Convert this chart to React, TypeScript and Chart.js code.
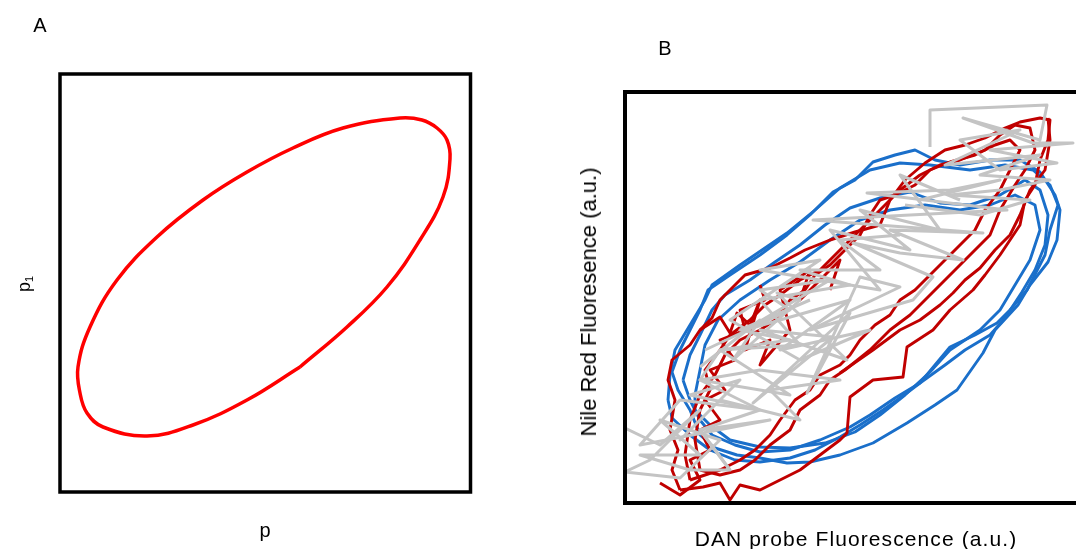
import React, { useEffect, useRef } from "react";
import { Chart, registerables } from "chart.js";

Chart.register(...registerables);

type P = [number, number];

// Panel A: ellipse trace (x = p, y = p1), in box units
const ellipseA: P[] = [
  [240, 125], [287, 165], [327, 205], [360, 252], [383, 295], [390, 333], [387, 352], [377, 364],
  [362, 372], [340, 374], [283, 364], [233, 344], [187, 320], [143, 292], [97, 255],
  [57, 212], [30, 165], [18, 125], [20, 99], [27, 79], [43, 65], [87, 56], [133, 67],
  [187, 92], [240, 125],
];

// Panel B: DAN probe (x) vs Nile Red (y) trajectories, a.u.
const blue1: P[] = [
  [47, 131], [55, 153], [65, 173], [75, 193], [83, 213], [105, 228], [135, 248], [162, 268],
  [185, 288], [208, 311], [230, 323], [248, 341], [270, 348], [290, 353], [310, 343], [335, 338],
  [365, 343], [395, 343], [415, 331], [430, 308], [435, 293], [432, 263], [423, 241], [405, 218],
  [393, 198], [370, 173], [358, 150], [332, 113], [310, 98], [282, 80], [248, 60], [215, 48],
  [185, 41], [162, 40], [135, 45], [112, 48], [90, 55], [75, 68], [65, 93], [53, 113], [47, 131],
];
const blue2: P[] = [
  [58, 123], [65, 148], [75, 168], [87, 193], [100, 208], [125, 223], [150, 241], [175, 258],
  [200, 278], [225, 295], [255, 305], [285, 311], [315, 300], [345, 298], [375, 308], [400, 323],
  [415, 313], [423, 288], [420, 258], [410, 233], [397, 211], [380, 185], [365, 168], [340, 153],
  [320, 138], [295, 120], [270, 105], [245, 88], [225, 76], [195, 63], [165, 53], [135, 51],
  [110, 58], [87, 68], [75, 83], [65, 103], [58, 123],
];
const blue3: P[] = [
  [70, 108], [75, 133], [80, 158], [93, 183], [115, 203], [145, 223], [175, 241], [205, 263],
  [235, 283], [265, 293], [300, 298], [335, 293], [365, 298], [390, 308], [410, 298], [415, 273],
  [405, 243], [390, 218], [375, 193], [355, 173], [325, 153], [305, 131], [280, 108], [255, 88],
  [230, 71], [200, 60], [165, 55], [135, 56], [105, 63], [85, 78], [70, 93], [70, 108],
];
const blue4: P[] = [
  [43, 103], [45, 128], [50, 153], [65, 178], [80, 203], [87, 218], [115, 238], [162, 270],
  [190, 293], [215, 315], [245, 333], [275, 340], [305, 338], [345, 333], [380, 338], [408, 333],
  [425, 318], [433, 298], [425, 273], [420, 248], [402, 213], [385, 193], [372, 180], [350, 168],
  [325, 156], [310, 138], [295, 120], [275, 105], [258, 93], [235, 78], [215, 66], [190, 53],
  [165, 45], [135, 41], [110, 43], [85, 53], [65, 68], [47, 85], [43, 103],
];

const red1: P[] = [
  [55, 13], [47, 33], [53, 53], [45, 73], [50, 103], [43, 123], [47, 143], [65, 158], [75, 173],
  [87, 185], [95, 203], [110, 218], [120, 228], [145, 235], [165, 245], [180, 253], [205, 263],
  [230, 271], [255, 278], [265, 303], [280, 323], [300, 340], [320, 353], [340, 358], [360, 365],
  [380, 375], [395, 381], [415, 385], [425, 383], [423, 363], [415, 343], [410, 318], [400, 303],
  [395, 278], [385, 263], [375, 248], [360, 228], [348, 213], [325, 193], [308, 173], [282, 156],
  [278, 126], [248, 123], [225, 106], [222, 70], [215, 63], [195, 48], [175, 33], [155, 23],
  [135, 13], [115, 18], [105, 3], [95, 20], [78, 16], [55, 13],
];
const red2: P[] = [
  [75, 33], [70, 63], [75, 93], [85, 113], [80, 133], [95, 153], [105, 168], [125, 183],
  [140, 198], [155, 208], [175, 223], [195, 233], [210, 248], [225, 263], [245, 283], [260, 298],
  [275, 313], [295, 328], [315, 338], [335, 343], [360, 353], [375, 368], [390, 378], [405, 375],
  [410, 353], [400, 333], [390, 318], [375, 293], [365, 268], [350, 253], [335, 238], [320, 223],
  [305, 208], [285, 188], [265, 173], [245, 153], [220, 133], [205, 123], [195, 108], [175, 93],
  [165, 73], [145, 58], [130, 43], [115, 33], [95, 28], [75, 33],
];
const red3: P[] = [
  [65, 23], [60, 48], [65, 83], [75, 108], [90, 128], [100, 148], [115, 163], [135, 173],
  [150, 183], [165, 203], [180, 213], [190, 228], [205, 238], [220, 253], [235, 268], [245, 288],
  [255, 303], [270, 308], [290, 318], [305, 333], [325, 341], [350, 348], [370, 358], [385, 363],
  [395, 353], [385, 333], [375, 313], [360, 293], [350, 273], [335, 258], [320, 243], [305, 228],
  [290, 213], [275, 203], [265, 188], [250, 178], [235, 163], [225, 148], [215, 138], [195, 128],
  [185, 113], [170, 103], [155, 83], [145, 68], [130, 53], [115, 43], [95, 33], [80, 28], [65, 23],
];
const red4: P[] = [
  [215, 130], [248, 153], [275, 173], [295, 183], [315, 198], [328, 210], [340, 223], [355, 235],
  [370, 253], [385, 268], [395, 288], [405, 313], [420, 333], [425, 363], [423, 385],
];
const red5: P[] = [
  [35, 20], [55, 8], [75, 23], [65, 43], [85, 53], [75, 73], [95, 83], [80, 103], [100, 113],
  [85, 133], [110, 143], [95, 163], [120, 173], [115, 193], [140, 203], [135, 218],
];
const red6: P[] = [
  [75, 173], [95, 186], [105, 170], [112, 190], [125, 178], [135, 203], [120, 153], [145, 163],
  [135, 138], [165, 173], [155, 213], [185, 233], [175, 203], [215, 243], [205, 213],
];

const gray1: P[] = [
  [0, 75], [35, 58], [75, 93], [25, 43], [0, 31], [55, 25], [95, 63], [35, 83], [75, 48],
  [15, 48], [65, 33], [105, 33], [75, 73], [135, 93], [65, 108], [115, 123], [55, 63], [95, 103],
  [175, 83], [145, 113], [215, 123], [135, 133], [75, 123], [95, 153], [165, 163], [115, 173],
  [185, 203],
];
const gray2: P[] = [
  [75, 136], [135, 183], [108, 143], [175, 203], [152, 210], [222, 143], [135, 173], [208, 166],
  [128, 100], [225, 190], [182, 110], [235, 226], [275, 216], [185, 173], [288, 203], [308, 226],
  [245, 253], [228, 260], [275, 250], [338, 243], [265, 273], [358, 270], [188, 283], [382, 293],
  [242, 310], [325, 313], [375, 323], [295, 303],
];
const gray3: P[] = [
  [305, 356], [305, 393], [422, 398], [415, 363], [338, 385], [408, 360], [448, 360], [365, 353],
  [432, 340], [375, 333], [335, 363], [395, 373], [320, 338], [415, 348], [355, 328], [425, 323],
  [375, 313], [325, 308], [405, 303], [355, 288], [280, 298],
];
const gray4: P[] = [
  [105, 33], [75, 73], [145, 83], [15, 58], [55, 103], [135, 93], [75, 123], [165, 108], [95, 153],
  [175, 158], [135, 203], [225, 218], [175, 233], [255, 233], [215, 263], [275, 268],
];
const gray5: P[] = [
  [80, 153], [165, 193], [135, 213], [205, 223], [120, 173], [225, 203], [155, 153], [245, 173],
  [175, 143], [105, 183], [195, 243], [135, 233], [255, 213], [205, 273], [285, 253], [235, 293],
  [315, 273], [275, 328], [335, 303],
];

const BLUE = "#1a6fca";
const RED = "#c00000";
const GRAY = "#c4c4c4";

const boxPlugin = {
  id: "boxBorder",
  afterDraw(chart: any, _args: any, opts: any) {
    const { ctx, chartArea } = chart;
    ctx.save();
    ctx.strokeStyle = "#000";
    ctx.lineWidth = opts.width || 3;
    ctx.strokeRect(chartArea.left, chartArea.top, chartArea.right - chartArea.left, chartArea.bottom - chartArea.top);
    ctx.restore();
  },
};

const toXY = (a: P[]) => a.map(([x, y]) => ({ x, y }));

function PanelChart({ datasets, xMax, yMax, padding, border, width, height, left }: any) {
  const ref = useRef<HTMLCanvasElement>(null);
  useEffect(() => {
    const chart = new Chart(ref.current!, {
      type: "scatter",
      data: { datasets },
      options: {
        animation: false,
        responsive: false,
        maintainAspectRatio: false,
        layout: { padding },
        plugins: { legend: { display: false }, tooltip: { enabled: false }, boxBorder: { width: border } } as any,
        scales: {
          x: { type: "linear", min: 0, max: xMax, display: false },
          y: { type: "linear", min: 0, max: yMax, display: false },
        },
        elements: { point: { radius: 0 } },
      },
      plugins: [boxPlugin],
    });
    return () => chart.destroy();
  }, []);
  return (
    <canvas
      ref={ref}
      width={width}
      height={height}
      style={{ position: "absolute", left, top: 0, width, height }}
    />
  );
}

const lineDs = (data: P[], color: string, w: number, order: number, tension = 0) => ({
  data: toXY(data),
  showLine: true,
  borderColor: color,
  backgroundColor: color,
  borderWidth: w,
  pointRadius: 0,
  tension,
  order,
  borderJoinStyle: "round" as const,
});

const font = "'Liberation Sans', Arial, sans-serif";

const label = (content: any, x: number, y: number, size: number, rotate = false, extra: any = {}) => (
  <div
    style={{
      position: "absolute",
      left: x,
      top: y,
      transform: `translate(-50%, -50%)${rotate ? " rotate(-90deg)" : ""}`,
      fontFamily: font,
      fontSize: size,
      lineHeight: 1,
      whiteSpace: "nowrap",
      color: "#000",
      ...extra,
    }}
  >
    {content}
  </div>
);

export default function App() {
  const dsA = [lineDs(ellipseA, "#ff0000", 3.5, 1, 0.4)];
  const dsB = [
    lineDs(blue1, BLUE, 2.9, 3),
    lineDs(blue2, BLUE, 2.9, 3),
    lineDs(blue3, BLUE, 2.9, 3),
    lineDs(blue4, BLUE, 2.9, 3),
    lineDs(red1, RED, 2.9, 2),
    lineDs(red2, RED, 2.9, 2),
    lineDs(red3, RED, 2.9, 2),
    lineDs(red4, RED, 2.9, 2),
    lineDs(red5, RED, 2.9, 2),
    lineDs(red6, RED, 2.9, 2),
    lineDs(gray1, GRAY, 3, 1),
    lineDs(gray2, GRAY, 3, 1),
    lineDs(gray3, GRAY, 3, 1),
    lineDs(gray4, GRAY, 3, 1),
    lineDs(gray5, GRAY, 3, 1),
  ];
  return (
    <div
      style={{
        position: "fixed",
        left: 0,
        top: 0,
        width: 1076,
        height: 549,
        overflow: "hidden",
        background: "#fff",
      }}
    >
      <PanelChart
        datasets={dsA}
        xMax={410.5}
        yMax={418}
        padding={{ left: 60, right: 9.5, top: 74, bottom: 57 }}
        border={3.5}
        width={480}
        height={549}
        left={0}
      />
      <PanelChart
        datasets={dsB}
        xMax={465}
        yMax={411}
        padding={{ left: 65, right: 30, top: 92, bottom: 46 }}
        border={4}
        width={560}
        height={549}
        left={560}
      />
      {label("A", 40, 25, 20)}
      {label("B", 665, 48, 20)}
      {label("p", 265, 530, 20)}
      {label(
        <span>
          p<span style={{ fontSize: 11, position: "relative", top: 3 }}>1</span>
        </span>,
        24,
        284,
        18,
        true
      )}
      {label("Nile Red Fluoresence (a.u.)", 589, 302, 22, true)}
      {label("DAN probe Fluorescence (a.u.)", 856, 538, 21, false, { letterSpacing: "1.1px" })}
    </div>
  );
}
